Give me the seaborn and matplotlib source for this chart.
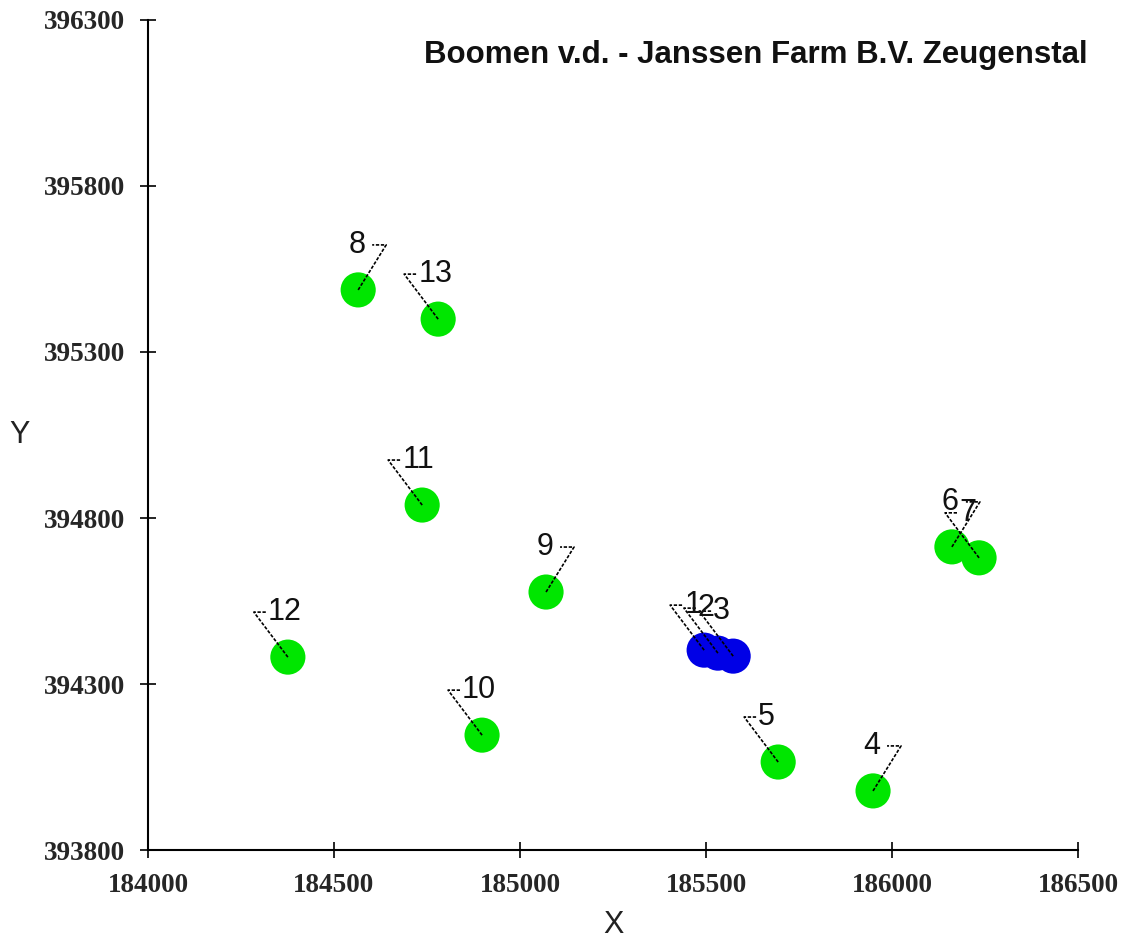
import numpy as np
import pandas as pd
import matplotlib
matplotlib.use("Agg")
import matplotlib.pyplot as plt
import seaborn as sns

# ================================================================
# DATA
# ================================================================
point_names = ["1", "2", "3", "4", "5", "6", "7", "8", "9", "10", "11", "12", "13"]
x_coords = [185495, 185532, 185573, 185949, 185694, 186161, 186234,
            184565, 185070, 184898, 184737, 184376, 184780]
y_coords = [394402, 394393, 394384, 393978, 394065, 394713, 394680,
            395487, 394577, 394146, 394839, 394381, 395399]
point_group = ["stal", "stal", "stal", "boom", "boom", "boom", "boom",
               "boom", "boom", "boom", "boom", "boom", "boom"]
label_side = ["left", "left", "left", "right", "left", "right", "left",
              "right", "right", "left", "left", "left", "left"]

x_ticks = [184000, 184500, 185000, 185500, 186000, 186500]
y_ticks = [393800, 394300, 394800, 395300, 395800, 396300]
title = "Boomen v.d. - Janssen Farm B.V. Zeugenstal"

df = pd.DataFrame({"name": point_names, "X": x_coords, "Y": y_coords,
                   "group": point_group, "side": label_side})

# ================================================================
# FIGURE
# ================================================================
sns.set_theme(style="white")
plt.rcParams["font.family"] = ["Liberation Sans", "DejaVu Sans"]

fig = plt.figure(figsize=(11.22, 9.38), dpi=100)
ax = fig.add_axes([0.1319, 0.0938, 0.8289, 0.8849])

sns.scatterplot(data=df, x="X", y="Y", hue="group",
                palette={"boom": "#00e600", "stal": "#0000e6"},
                s=640, linewidth=0, legend=False, ax=ax, zorder=2)

ax.set_xlim(x_ticks[0], x_ticks[-1])
ax.set_ylim(y_ticks[0], y_ticks[-1])
ax.set_xticks(x_ticks)
ax.set_yticks(y_ticks)
ax.set_xticklabels([str(t) for t in x_ticks])
ax.set_yticklabels([str(t) for t in y_ticks])
for lab in ax.get_xticklabels() + ax.get_yticklabels():
    lab.set_fontfamily("Liberation Serif")
    lab.set_fontweight("bold")
    lab.set_fontsize(19.5)
ax.tick_params(direction="inout", length=11, width=1.2, pad=11,
               color="black", bottom=True, left=True)

sns.despine(ax=ax)
for sp in ["left", "bottom"]:
    ax.spines[sp].set_color("black")
    ax.spines[sp].set_linewidth(1.5)

ax.set_xlabel("X", fontsize=22, color="#222222", va="center")
ax.set_ylabel("Y", fontsize=22, color="#222222", rotation=0, va="center", ha="center")
ax.xaxis.set_label_coords(0.5, -0.09)
ax.yaxis.set_label_coords(-0.138, 0.5)

fig.text(1088 / 1122, 1 - 55 / 938, title, ha="right", va="center",
         fontsize=22.5, fontweight="bold", color="#111111")

# ================================================================
# LEADER LINES + LABELS (offsets in pixels)
# ================================================================
sx = (x_ticks[-1] - x_ticks[0]) / ax.bbox.width
sy = (y_ticks[-1] - y_ticks[0]) / ax.bbox.height

for _, r in df.iterrows():
    if r["side"] == "right":
        cx, cy, hx, tx, ha = 28, 45, -14, -21, "right"
    else:
        cx, cy, hx, tx, ha = -34, 45, 13, 14, "left"
    corner_x = r["X"] + cx * sx
    corner_y = r["Y"] + cy * sy
    ax.plot([r["X"], corner_x, corner_x + hx * sx],
            [r["Y"], corner_y, corner_y],
            color="black", lw=1.2, ls=(0, (2, 1)), zorder=3)
    ax.text(corner_x + tx * sx, corner_y, r["name"], ha=ha, va="center",
            fontsize=22, color="#111111", zorder=4)

fig.savefig("out.png", dpi=100)
